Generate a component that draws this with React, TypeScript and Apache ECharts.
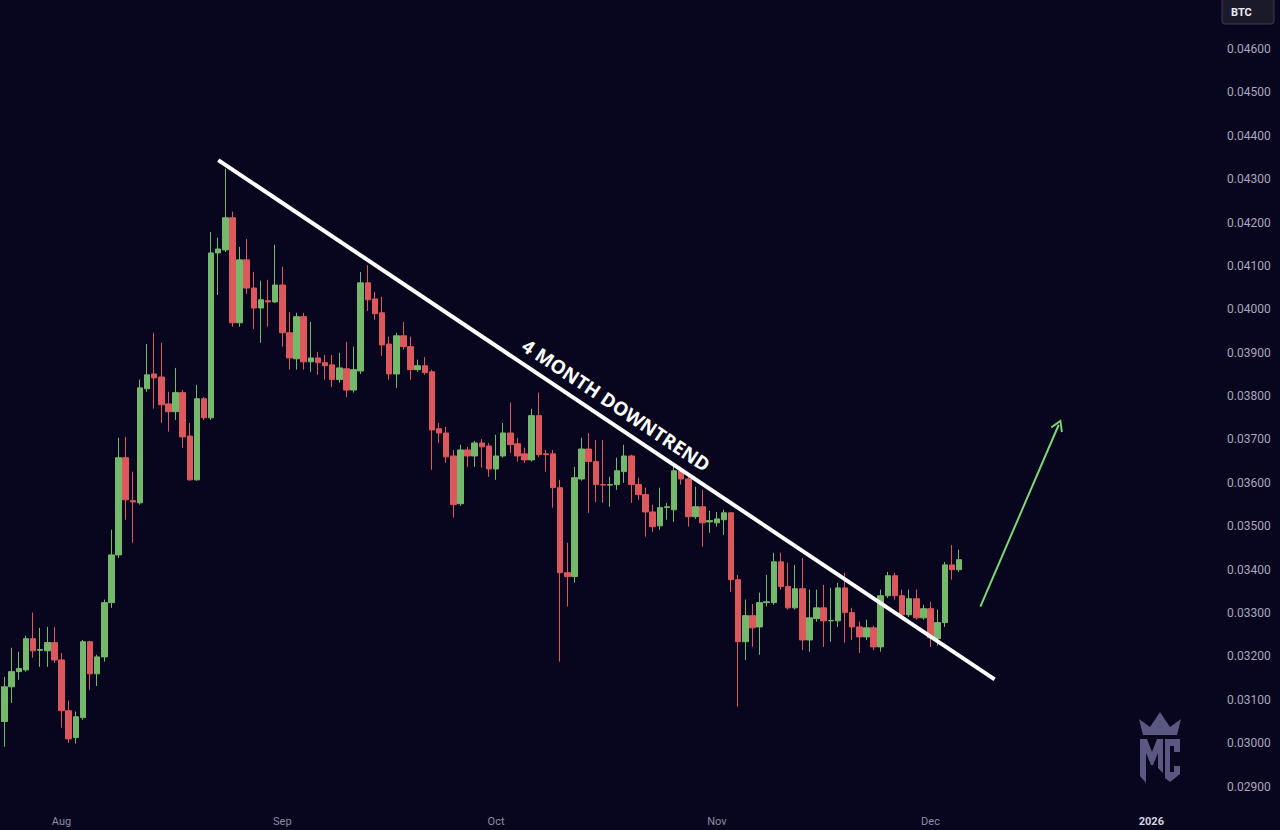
import React, { useEffect, useRef } from "react";
import * as echarts from "echarts";

// ---------- data ----------
const START_UTC = Date.UTC(2025, 6, 24);
const AXIS_DAYS = 171;
const categories: string[] = Array.from({ length: AXIS_DAYS }, (_, i) =>
  new Date(START_UTC + i * 86400000).toISOString().slice(0, 10)
);
const monthNames = ["Jan", "Feb", "Mar", "Apr", "May", "Jun", "Jul", "Aug", "Sep", "Oct", "Nov", "Dec"];
const priceTicks = { min: 0.028, max: 0.047, step: 0.001 };

// daily candles: [open, close, low, high]
const ohlc: number[][] = [
  [0.0305, 0.0313, 0.02992, 0.03153],
  [0.0313, 0.03165, 0.03093, 0.0322],
  [0.03165, 0.03172, 0.03146, 0.03211],
  [0.03169, 0.03241, 0.03165, 0.03248],
  [0.03241, 0.03213, 0.03197, 0.03301],
  [0.03214, 0.03216, 0.03176, 0.03266],
  [0.03213, 0.03232, 0.03176, 0.03268],
  [0.03232, 0.03192, 0.03185, 0.03268],
  [0.03192, 0.03075, 0.03036, 0.03208],
  [0.03075, 0.0301, 0.03001, 0.03098],
  [0.03013, 0.03061, 0.02999, 0.03073],
  [0.03059, 0.03234, 0.03054, 0.03238],
  [0.03234, 0.0316, 0.03123, 0.03236],
  [0.0316, 0.03199, 0.03132, 0.03204],
  [0.03199, 0.03324, 0.03188, 0.03331],
  [0.03324, 0.03434, 0.03312, 0.03492],
  [0.03434, 0.03658, 0.03427, 0.03704],
  [0.03658, 0.03561, 0.03515, 0.03706],
  [0.03559, 0.03556, 0.03462, 0.03626],
  [0.03554, 0.03819, 0.0355, 0.03838],
  [0.03817, 0.03849, 0.0381, 0.0392],
  [0.03851, 0.03842, 0.03771, 0.03946],
  [0.03844, 0.0378, 0.03738, 0.03923],
  [0.03782, 0.03764, 0.03718, 0.0381],
  [0.03764, 0.03808, 0.03745, 0.03865],
  [0.03808, 0.03706, 0.03681, 0.03814],
  [0.03708, 0.03607, 0.03605, 0.03738],
  [0.03607, 0.03794, 0.03605, 0.03826],
  [0.03794, 0.0375, 0.03745, 0.03798],
  [0.0375, 0.0413, 0.03745, 0.04178],
  [0.0413, 0.04139, 0.04033, 0.04165],
  [0.04137, 0.04211, 0.04132, 0.04324],
  [0.04211, 0.03969, 0.0396, 0.04225],
  [0.03969, 0.04114, 0.0396, 0.04144],
  [0.04114, 0.04049, 0.04036, 0.04162],
  [0.04049, 0.04003, 0.03955, 0.04086],
  [0.04003, 0.04022, 0.03923, 0.04066],
  [0.0402, 0.04017, 0.0396, 0.04068],
  [0.04017, 0.04056, 0.04015, 0.04149],
  [0.04056, 0.03946, 0.03914, 0.04098],
  [0.03946, 0.03888, 0.03861, 0.03994],
  [0.03886, 0.03983, 0.03861, 0.03992],
  [0.03983, 0.03879, 0.03861, 0.03992],
  [0.03879, 0.03888, 0.03856, 0.03971],
  [0.03888, 0.03877, 0.03849, 0.03902],
  [0.03877, 0.0387, 0.03838, 0.03895],
  [0.03872, 0.03838, 0.03821, 0.03895],
  [0.03838, 0.03865, 0.03831, 0.039],
  [0.03863, 0.03814, 0.03798, 0.03925],
  [0.03814, 0.03861, 0.03808, 0.03914],
  [0.03858, 0.04061, 0.03851, 0.04086],
  [0.04061, 0.04022, 0.03996, 0.04102],
  [0.04024, 0.0399, 0.03976, 0.0404],
  [0.03992, 0.03918, 0.03893, 0.04029],
  [0.0392, 0.03851, 0.03838, 0.03937],
  [0.03851, 0.03939, 0.03819, 0.03946],
  [0.03939, 0.03914, 0.03907, 0.03971],
  [0.03914, 0.03861, 0.03838, 0.03937],
  [0.03861, 0.0387, 0.03856, 0.03884],
  [0.0387, 0.03854, 0.03849, 0.0389],
  [0.03856, 0.03722, 0.0363, 0.03861],
  [0.03725, 0.03715, 0.03692, 0.03738],
  [0.03715, 0.0366, 0.03646, 0.03729],
  [0.03662, 0.0355, 0.0352, 0.03676],
  [0.03552, 0.03676, 0.03547, 0.03688],
  [0.03676, 0.03662, 0.03637, 0.03683],
  [0.03662, 0.03692, 0.03637, 0.03697],
  [0.03692, 0.03683, 0.03635, 0.03701],
  [0.03685, 0.03632, 0.03614, 0.03692],
  [0.03632, 0.03662, 0.03607, 0.03711],
  [0.03662, 0.03715, 0.03658, 0.03738],
  [0.03715, 0.03688, 0.03669, 0.03785],
  [0.0369, 0.03662, 0.03649, 0.03704],
  [0.03667, 0.03653, 0.03646, 0.03681],
  [0.03653, 0.03755, 0.03649, 0.03771],
  [0.03755, 0.03665, 0.0366, 0.03808],
  [0.03667, 0.03665, 0.03626, 0.03676],
  [0.03667, 0.03589, 0.03543, 0.03676],
  [0.03589, 0.03393, 0.03188, 0.03607],
  [0.03393, 0.03384, 0.03315, 0.03462],
  [0.03384, 0.03612, 0.0337, 0.03637],
  [0.03609, 0.03678, 0.03605, 0.03704],
  [0.03678, 0.03649, 0.03531, 0.03715],
  [0.03649, 0.03596, 0.03556, 0.03699],
  [0.03596, 0.03595, 0.03554, 0.03699],
  [0.03595, 0.03596, 0.03545, 0.03614],
  [0.03596, 0.03628, 0.03584, 0.03658],
  [0.03626, 0.03662, 0.036, 0.03688],
  [0.03662, 0.03596, 0.03554, 0.03665],
  [0.03596, 0.03573, 0.03561, 0.03612],
  [0.03573, 0.03533, 0.03476, 0.03589],
  [0.03533, 0.03499, 0.03487, 0.0355],
  [0.03501, 0.03543, 0.03492, 0.03589],
  [0.03543, 0.03545, 0.03515, 0.03554],
  [0.03538, 0.03628, 0.0351, 0.03637],
  [0.03628, 0.03609, 0.03596, 0.03637],
  [0.03609, 0.03522, 0.03499, 0.03614],
  [0.03522, 0.03545, 0.03517, 0.03591],
  [0.03545, 0.03508, 0.03453, 0.03584],
  [0.0351, 0.03513, 0.03485, 0.03536],
  [0.03508, 0.03517, 0.03499, 0.03533],
  [0.03515, 0.03531, 0.0348, 0.03538],
  [0.03531, 0.03377, 0.03349, 0.03533],
  [0.03377, 0.03234, 0.03084, 0.03388],
  [0.03234, 0.03294, 0.03192, 0.03331],
  [0.03294, 0.03266, 0.03222, 0.03321],
  [0.03268, 0.03324, 0.03204, 0.03347],
  [0.03324, 0.03326, 0.03315, 0.03388],
  [0.03324, 0.03418, 0.03319, 0.03439],
  [0.03418, 0.03361, 0.03354, 0.03439],
  [0.03361, 0.03312, 0.03308, 0.03416],
  [0.03312, 0.03356, 0.03308, 0.03411],
  [0.03356, 0.03238, 0.03215, 0.03427],
  [0.03238, 0.03289, 0.03211, 0.03354],
  [0.03287, 0.03312, 0.0328, 0.03354],
  [0.03312, 0.03282, 0.03222, 0.03365],
  [0.03282, 0.03283, 0.03234, 0.03358],
  [0.03282, 0.03358, 0.03268, 0.0337],
  [0.03358, 0.03301, 0.03232, 0.03393],
  [0.03301, 0.03268, 0.03238, 0.03312],
  [0.03268, 0.03245, 0.03208, 0.0328],
  [0.03245, 0.03266, 0.03238, 0.03285],
  [0.03266, 0.03222, 0.03215, 0.03271],
  [0.03222, 0.0334, 0.03211, 0.03354],
  [0.0334, 0.03386, 0.03335, 0.03395],
  [0.03386, 0.0334, 0.03331, 0.03393],
  [0.0334, 0.03296, 0.03289, 0.03354],
  [0.03296, 0.03333, 0.03291, 0.03354],
  [0.03333, 0.03289, 0.03285, 0.03354],
  [0.03289, 0.0331, 0.03285, 0.03319],
  [0.0331, 0.03243, 0.03222, 0.03326],
  [0.03241, 0.03278, 0.03225, 0.03308],
  [0.03278, 0.03411, 0.03268, 0.03418],
  [0.03411, 0.034, 0.03377, 0.03457],
  [0.034, 0.03423, 0.03395, 0.03446],
];

// annotations (category index, price)
const trendLine = { from: [30, 0.04344], to: [139, 0.03147], label: "4 MONTH DOWNTREND" };
const breakoutArrow = { from: [137, 0.03315], to: [148, 0.03734] };
const pairLabel = "BTC";

// ---------- style ----------
const BG = "#07061e";
const UP = "#74b86c";
const DOWN = "#dc585c";
const FONT = "Roboto, 'Noto Sans', sans-serif";

export default function App() {
  const ref = useRef<HTMLDivElement>(null);

  useEffect(() => {
    document.body.style.margin = "0";
    document.body.style.background = BG;
    const chart = echarts.init(ref.current!, null, { renderer: "svg" });

    const option: any = {
      animation: false,
      backgroundColor: BG,
      grid: { left: 1, top: 5.6, width: 1218, height: 824.8 },
      xAxis: {
        type: "category",
        data: categories,
        boundaryGap: true,
        axisLine: { show: false },
        axisTick: { show: false },
        splitLine: { show: false },
        axisLabel: {
          inside: true,
          margin: 3,
          interval: (_i: number, v: string) => v.slice(8) === "01",
          formatter: (v: string) => {
            const m = parseInt(v.slice(5, 7), 10);
            return m === 1 ? `{yr|${v.slice(0, 4)}}` : monthNames[m - 1];
          },
          color: "#8d8ba6",
          fontSize: 11,
          fontFamily: FONT,
          rich: { yr: { color: "#d4d3e2", fontWeight: "bold", fontSize: 11, fontFamily: FONT } },
        },
      },
      yAxis: {
        type: "value",
        position: "right",
        min: priceTicks.min,
        max: priceTicks.max,
        interval: priceTicks.step,
        axisLine: { show: false },
        axisTick: { show: false },
        splitLine: { show: false },
        axisLabel: {
          margin: 8,
          color: "#a9a7bf",
          fontSize: 12,
          fontFamily: FONT,
          showMinLabel: false,
          showMaxLabel: false,
          formatter: (v: number) => v.toFixed(5),
        },
      },
      series: [
        {
          type: "candlestick",
          data: ohlc,
          barWidth: 6,
          silent: true,
          itemStyle: {
            color: UP,
            color0: DOWN,
            borderColor: UP,
            borderColor0: DOWN,
            borderColorDoji: "#9a98ad",
            borderWidth: 1,
          },
          markLine: {
            silent: true,
            symbol: ["none", "none"],
            data: [
              [
                {
                  coord: [categories[trendLine.from[0]], trendLine.from[1]],
                  lineStyle: { color: "#ffffff", width: 4, type: "solid" },
                  label: {
                    show: true,
                    formatter: trendLine.label,
                    position: "insideMiddleTop",
                    distance: 8,
                    color: "#ffffff",
                    fontSize: 19,
                    fontWeight: "bold",
                    fontFamily: "'Open Sans', 'Noto Sans', sans-serif",
                  },
                  symbol: "none",
                },
                { coord: [categories[trendLine.to[0]], trendLine.to[1]], symbol: "none" },
              ],
              [
                {
                  coord: [categories[breakoutArrow.from[0]], breakoutArrow.from[1]],
                  lineStyle: { color: "#7ed677", width: 2, type: "solid" },
                  label: { show: false },
                  symbol: "none",
                },
                {
                  coord: [categories[breakoutArrow.to[0]], breakoutArrow.to[1]],
                  symbol: "path://M0,0 L6,10 L4.6,11.2 L0,3.2 L-4.6,11.2 L-6,10 Z",
                  symbolSize: [13, 12],
                },
              ],
            ],
          },
        },
      ],
      graphic: [
        {
          type: "rect",
          shape: { x: 1222, y: -3, width: 52, height: 27, r: 3 },
          style: { fill: "#1b1a2b", stroke: "#3b3a4f", lineWidth: 1 },
          z: 10,
        },
        {
          type: "text",
          x: 1231,
          y: 12,
          style: { text: pairLabel, fill: "#ececf3", font: `bold 11px ${FONT}`, verticalAlign: "middle" },
          z: 11,
        },
        {
          type: "group",
          z: 5,
          children: [
            {
              type: "polygon",
              shape: { points: [[1143, 735], [1139, 719], [1150, 727], [1160, 712], [1170, 727], [1181, 719], [1177, 735]] },
              style: { fill: "#5a5780" },
            },
            {
              type: "polygon",
              shape: {
                points: [[1140, 739], [1147, 739], [1152, 752], [1157, 739], [1163, 739], [1163, 773], [1158, 768], [1158, 753], [1153, 765], [1151, 765], [1146, 753], [1146, 783], [1140, 776]],
              },
              style: { fill: "#5a5780" },
            },
            {
              type: "polygon",
              shape: {
                points: [[1165, 739], [1180, 739], [1180, 752], [1174, 752], [1174, 746], [1170, 746], [1170, 772], [1174, 772], [1174, 766], [1180, 766], [1180, 774], [1170, 782], [1165, 778]],
              },
              style: { fill: "#5a5780" },
            },
          ],
        },
      ],
    };

    chart.setOption(option);
    return () => chart.dispose();
  }, []);

  return (
    <div
      ref={ref}
      style={{ position: "fixed", left: 0, top: 0, width: 1280, height: 830, background: BG }}
    />
  );
}
